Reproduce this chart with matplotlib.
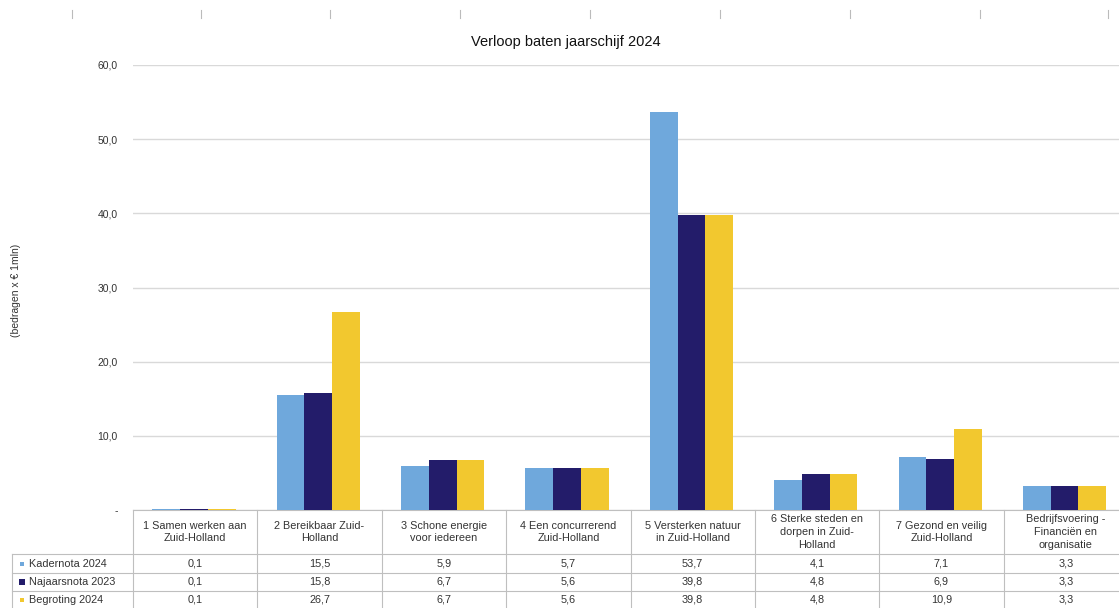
import matplotlib
matplotlib.use("Agg")
import matplotlib.pyplot as plt
import matplotlib.transforms as mtransforms
from matplotlib.lines import Line2D
from matplotlib.patches import Rectangle
import numpy as np

plt.rcParams['font.family'] = ['Liberation Sans', 'DejaVu Sans']

categories = [
    "1 Samen werken aan\nZuid-Holland",
    "2 Bereikbaar Zuid-\nHolland",
    "3 Schone energie\nvoor iedereen",
    "4 Een concurrerend\nZuid-Holland",
    "5 Versterken natuur\nin Zuid-Holland",
    "6 Sterke steden en\ndorpen in Zuid-\nHolland",
    "7 Gezond en veilig\nZuid-Holland",
    "Bedrijfsvoering -\nFinanciën en\norganisatie",
]
series_names = ["Kadernota 2024", "Najaarsnota 2023", "Begroting 2024"]
kadernota_2024 = [0.1, 15.5, 5.9, 5.7, 53.7, 4.1, 7.1, 3.3]
najaarsnota_2023 = [0.1, 15.8, 6.7, 5.6, 39.8, 4.8, 6.9, 3.3]
begroting_2024 = [0.1, 26.7, 6.7, 5.6, 39.8, 4.8, 10.9, 3.3]
yticks = [0, 10, 20, 30, 40, 50, 60]

series = [kadernota_2024, najaarsnota_2023, begroting_2024]
colors = ["#6FA8DC", "#231C6A", "#F2C82F"]

W, H = 1119, 608
fig = plt.figure(figsize=(W / 100, H / 100), dpi=100)

def fx(px):
    return px / W

def fy(py):
    return 1 - py / H

ax_left, ax_right, ax_top, ax_bottom = 133, 1128, 65, 510
ax = fig.add_axes([fx(ax_left), fy(ax_bottom), fx(ax_right - ax_left), (ax_bottom - ax_top) / H])

n = len(categories)
x = np.arange(n)
bw = 0.223
for i, (vals, c) in enumerate(zip(series, colors)):
    ax.bar(x + (i - 1) * bw - 0.01, vals, width=bw, color=c, zorder=3, linewidth=0)

ax.set_xlim(-0.5, n - 0.5)
ax.set_ylim(0, 60)
ax.set_yticks(yticks)
ax.set_yticklabels(["-" if v == 0 else f"{v:.1f}".replace(".", ",") for v in yticks],
                   fontsize=7.5, color="#333333")
ax.tick_params(axis='y', length=0, pad=11)
ax.set_xticks([])
for s in ax.spines.values():
    s.set_visible(False)
ax.grid(axis='y', color="#D9D9D9", linewidth=1, zorder=0)

fig.text(fx(16), fy(290), "(bedragen x € 1mln)", rotation=90, ha='center', va='center',
         fontsize=7.5, color="#333333")
fig.text(fx(566), fy(42), "Verloop baten jaarschijf 2024", ha='center', va='center',
         fontsize=10.5, color="#111111")

# top ruler marks
for px in [72, 201, 330, 460, 590, 720, 850, 980, 1108]:
    fig.add_artist(Line2D([fx(px), fx(px)], [fy(10), fy(18)], color="#BBBBBB", linewidth=0.8))

# data table
tr = mtransforms.blended_transform_factory(ax.transData, fig.transFigure)
line_c = "#BFBFBF"
row_lines = [510, 554, 573, 591, 608]
ax.add_line(Line2D([-0.5, n - 0.5], [fy(510), fy(510)], transform=tr, color=line_c, lw=0.8, clip_on=False))
for ry in row_lines[1:4]:
    fig.add_artist(Line2D([fx(12), fx(ax_right)], [fy(ry), fy(ry)], color=line_c, lw=0.8))
fig.add_artist(Line2D([fx(12), fx(12)], [fy(554), fy(608)], color=line_c, lw=0.8))
for b in np.arange(-0.5, n, 1.0):
    ax.add_line(Line2D([b, b], [fy(510), fy(608)], transform=tr, color=line_c, lw=0.8, clip_on=False))

tfs = 7.8
for i, cat in enumerate(categories):
    ax.text(x[i], fy(532), cat, transform=tr, ha='center', va='center', fontsize=tfs,
            color="#333333", linespacing=1.35, clip_on=False)

row_centers = [564, 582, 600]
marker_sizes = [4, 6, 4]
for r, (name, vals, c) in enumerate(zip(series_names, series, colors)):
    yc = row_centers[r]
    ms = marker_sizes[r]
    fig.add_artist(Rectangle((fx(22 - ms / 2), fy(yc + ms / 2)), ms / W, ms / H,
                             facecolor=c, edgecolor='none'))
    fig.text(fx(29), fy(yc), name, ha='left', va='center', fontsize=tfs, color="#333333")
    for i, v in enumerate(vals):
        ax.text(x[i], fy(yc), f"{v:.1f}".replace(".", ","), transform=tr, ha='center',
                va='center', fontsize=tfs, color="#333333", clip_on=False)

fig.savefig("out.png", dpi=100, facecolor="white")
